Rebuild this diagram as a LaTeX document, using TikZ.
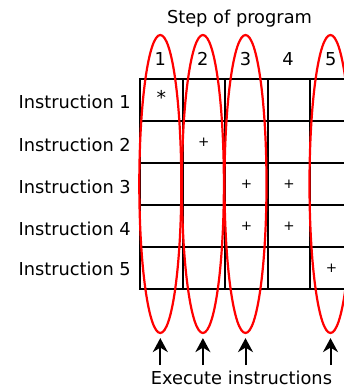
\documentclass[tikz,border=0pt]{standalone}
\usepackage{fontspec}
\setmainfont{DejaVu Sans}
\usetikzlibrary{shapes.geometric,arrows.meta}
\begin{document}
\begin{tikzpicture}[x=1pt,y=-1pt,
  cell/.style={draw, line width=1.9pt, minimum width=42.6pt, minimum height=42pt,
               inner sep=0pt, anchor=north west},
  lbl/.style={font=\fontsize{17.8}{20}\selectfont, inner sep=0pt},
  cellmark/.style={font=\fontsize{13.5}{15}\selectfont, inner sep=0pt},
  stepring/.style={draw=red, line width=2.2pt, ellipse, minimum width=42pt,
                   minimum height=298pt, inner sep=0pt},
  uparrow/.style={-{Stealth[length=14pt,width=15pt,inset=4.5pt]}, line width=2pt,
                  shorten >=4pt}]
\useasboundingbox (0,0) rectangle (344,389);
\clip (0,0) rectangle (344,389);

% title
\node[lbl, anchor=base] (title) at (239.5,23.3) {Step of program};

% table of instructions against program steps
\foreach \r in {1,...,5}
  \foreach \c in {1,...,5}
    \node[cell] (c\r\c) at ({139+42.6*(\c-1)},{78+42*(\r-1)}) {};

% step numbers
\foreach \c in {1,...,5}
  \node[lbl, anchor=base] (n\c) at ({160.3+42.6*(\c-1)},65.5) {\c};

% instruction names
\node[lbl, anchor=base east] (i1) at (131,108) {Instruction 1};
\node[lbl, anchor=base east] (i2) at (131,151) {Instruction 2};
\node[lbl, anchor=base east] (i3) at (131,193) {Instruction 3};
\node[lbl, anchor=base east] (i4) at (131,235) {Instruction 4};
\node[lbl, anchor=base east] (i5) at (131,275) {Instruction 5};

% marks in the cells
\node[cellmark, font=\fontsize{19}{20}\selectfont] (m11) at ([yshift=2.5pt]c11.center) {*};
\node[cellmark] (m22) at (c22.center) {+};
\node[cellmark] (m33) at (c33.center) {+};
\node[cellmark] (m34) at (c34.center) {+};
\node[cellmark] (m43) at (c43.center) {+};
\node[cellmark] (m44) at (c44.center) {+};
\node[cellmark] (m55) at (c55.center) {+};

% steps in which instructions are executed
\node[stepring] (s1) at (160.3,184) {};
\node[stepring] (s2) at (202.9,184) {};
\node[stepring] (s3) at (245.5,184) {};
\node[stepring] (s5) at (330.5,184) {};

% arrows
\coordinate (t1) at (160.3,365);
\coordinate (t2) at (202.9,365);
\coordinate (t3) at (245.5,365);
\coordinate (t5) at (330.5,365);
\draw[uparrow] (t1) -- (s1.south);
\draw[uparrow] (t2) -- (s2.south);
\draw[uparrow] (t3) -- (s3.south);
\draw[uparrow] (t5) -- (s5.south);

\node[lbl, anchor=base] (exec) at (241.5,384) {Execute instructions};
\end{tikzpicture}
\end{document}
